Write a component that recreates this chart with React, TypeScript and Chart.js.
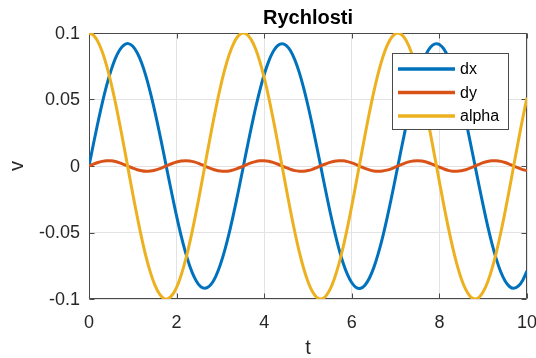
import React, { useEffect, useRef } from 'react';
import { Chart, registerables } from 'chart.js';

Chart.register(...registerables);

const TITLE = 'Rychlosti';
const X_LABEL = 't';
const Y_LABEL = 'v';

const T = [
  0, 0.1, 0.2, 0.3, 0.4, 0.5, 0.6, 0.7, 0.8, 0.9,
  1.0, 1.1, 1.2, 1.3, 1.4, 1.5, 1.6, 1.7, 1.8, 1.9,
  2.0, 2.1, 2.2, 2.3, 2.4, 2.5, 2.6, 2.7, 2.8, 2.9,
  3.0, 3.1, 3.2, 3.3, 3.4, 3.5, 3.6, 3.7, 3.8, 3.9,
  4.0, 4.1, 4.2, 4.3, 4.4, 4.5, 4.6, 4.7, 4.8, 4.9,
  5.0, 5.1, 5.2, 5.3, 5.4, 5.5, 5.6, 5.7, 5.8, 5.9,
  6.0, 6.1, 6.2, 6.3, 6.4, 6.5, 6.6, 6.7, 6.8, 6.9,
  7.0, 7.1, 7.2, 7.3, 7.4, 7.5, 7.6, 7.7, 7.8, 7.9,
  8.0, 8.1, 8.2, 8.3, 8.4, 8.5, 8.6, 8.7, 8.8, 8.9,
  9.0, 9.1, 9.2, 9.3, 9.4, 9.5, 9.6, 9.7, 9.8, 9.9,
  10.0,
];

const DX = [
  0, 0.0163, 0.0321, 0.0469, 0.0602, 0.0715, 0.0807, 0.0872, 0.0910, 0.0920,
  0.0900, 0.0851, 0.0776, 0.0676, 0.0554, 0.0415, 0.0263, 0.0103, -0.0061, -0.0222,
  -0.0377, -0.0520, -0.0646, -0.0752, -0.0834, -0.0890, -0.0917, -0.0915, -0.0885, -0.0826,
  -0.0741, -0.0633, -0.0505, -0.0360, -0.0205, -0.0043, 0.0121, 0.0281, 0.0432, 0.0569,
  0.0688, 0.0785, 0.0858, 0.0903, 0.0920, 0.0907, 0.0866, 0.0798, 0.0704, 0.0588,
  0.0453, 0.0304, 0.0145, -0.0018, -0.0181, -0.0338, -0.0484, -0.0615, -0.0727, -0.0815,
  -0.0878, -0.0913, -0.0919, -0.0896, -0.0844, -0.0766, -0.0663, -0.0540, -0.0399, -0.0246,
  -0.0085, 0.0079, 0.0240, 0.0394, 0.0535, 0.0659, 0.0763, 0.0842, 0.0894, 0.0918,
  0.0914, 0.0880, 0.0818, 0.0730, 0.0620, 0.0489, 0.0344, 0.0187, 0.0024, -0.0139,
  -0.0298, -0.0448, -0.0583, -0.0700, -0.0795, -0.0864, -0.0906, -0.0920, -0.0904, -0.0860,
  -0.0789,
];

const DY = [
  0, 0.0014, 0.0026, 0.0035, 0.0040, 0.0039, 0.0034, 0.0024, 0.0011, -0.0003,
  -0.0016, -0.0028, -0.0036, -0.0040, -0.0038, -0.0032, -0.0022, -0.0009, 0.0005, 0.0019,
  0.0030, 0.0037, 0.0040, 0.0038, 0.0031, 0.0020, 0.0006, -0.0008, -0.0021, -0.0032,
  -0.0038, -0.0040, -0.0037, -0.0029, -0.0017, -0.0004, 0.0010, 0.0023, 0.0033, 0.0039,
  0.0040, 0.0036, 0.0027, 0.0015, 0.0001, -0.0013, -0.0025, -0.0035, -0.0039, -0.0039,
  -0.0034, -0.0025, -0.0012, 0.0002, 0.0015, 0.0027, 0.0036, 0.0040, 0.0039, 0.0033,
  0.0023, 0.0010, -0.0004, -0.0018, -0.0029, -0.0037, -0.0040, -0.0038, -0.0031, -0.0021,
  -0.0007, 0.0007, 0.0020, 0.0031, 0.0038, 0.0040, 0.0037, 0.0030, 0.0018, 0.0005,
  -0.0009, -0.0022, -0.0033, -0.0039, -0.0040, -0.0036, -0.0028, -0.0016, -0.0002, 0.0012,
  0.0025, 0.0034, 0.0039, 0.0040, 0.0035, 0.0026, 0.0013, -0.0001, -0.0014, -0.0027,
  -0.0035,
];

const ALPHA = [
  0.1, 0.0984, 0.0937, 0.0861, 0.0757, 0.0629, 0.0481, 0.0318, 0.0145, -0.0033,
  -0.0210, -0.0380, -0.0538, -0.0679, -0.0798, -0.0892, -0.0958, -0.0994, -0.0998, -0.0970,
  -0.0912, -0.0825, -0.0712, -0.0576, -0.0422, -0.0255, -0.0079, 0.0099, 0.0274, 0.0440,
  0.0592, 0.0726, 0.0836, 0.0920, 0.0975, 0.0999, 0.0991, 0.0952, 0.0883, 0.0786,
  0.0664, 0.0521, 0.0361, 0.0190, 0.0013, -0.0164, -0.0337, -0.0498, -0.0644, -0.0769,
  -0.0870, -0.0944, -0.0988, -0.1000, -0.0981, -0.0930, -0.0850, -0.0744, -0.0613, -0.0463,
  -0.0299, -0.0125, 0.0053, 0.0229, 0.0398, 0.0554, 0.0693, 0.0810, 0.0901, 0.0964,
  0.0996, 0.0996, 0.0965, 0.0904, 0.0814, 0.0698, 0.0559, 0.0404, 0.0235, 0.0059,
  -0.0119, -0.0293, -0.0458, -0.0608, -0.0739, -0.0847, -0.0928, -0.0979, -0.1000, -0.0989,
  -0.0946, -0.0874, -0.0774, -0.0649, -0.0504, -0.0343, -0.0171, 0.0007, 0.0184, 0.0355,
  0.0515,
];

const SERIES_LABELS = ['dx', 'dy', 'alpha'];
const SERIES_COLORS = ['#0072BD', '#D95319', '#EDB120'];

const X_TICKS = [0, 2, 4, 6, 8, 10];
const Y_TICKS = [-0.1, -0.05, 0, 0.05, 0.1];

const FONT = "'Liberation Sans', Arial, Helvetica, sans-serif";
const AXIS_COLOR = '#262626';
const BOX_COLOR = '#4a4a4a';
const GRID_COLOR = '#e3e3e3';

const boxPlugin = {
  id: 'matlabBox',
  beforeDatasetsDraw(chart: any) {
    const { ctx, chartArea: a, scales } = chart;
    const L = Math.round(a.left) + 0.5;
    const R = Math.round(a.right) - 0.5;
    const Tp = Math.round(a.top) + 0.5;
    const B = Math.round(a.bottom) - 0.5;
    ctx.save();
    ctx.strokeStyle = BOX_COLOR;
    ctx.lineWidth = 1;
    ctx.beginPath();
    ctx.rect(L, Tp, R - L, B - Tp);
    const tl = 5;
    X_TICKS.forEach((v) => {
      const px = Math.round(scales.x.getPixelForValue(v)) + 0.5;
      ctx.moveTo(px, B);
      ctx.lineTo(px, B - tl);
      ctx.moveTo(px, Tp);
      ctx.lineTo(px, Tp + tl);
    });
    Y_TICKS.forEach((v) => {
      const py = Math.round(scales.y.getPixelForValue(v)) + 0.5;
      ctx.moveTo(L, py);
      ctx.lineTo(L + tl, py);
      ctx.moveTo(R, py);
      ctx.lineTo(R - tl, py);
    });
    ctx.stroke();
    ctx.restore();
  },
};

const legendPlugin = {
  id: 'matlabLegend',
  afterDatasetsDraw(chart: any) {
    const { ctx, chartArea: a } = chart;
    const w = 116;
    const h = 76;
    const left = Math.round(a.right) - 19 - w;
    const top = Math.round(a.top) + 20;
    ctx.save();
    ctx.fillStyle = '#ffffff';
    ctx.fillRect(left, top, w, h);
    ctx.strokeStyle = BOX_COLOR;
    ctx.lineWidth = 1;
    ctx.strokeRect(left + 0.5, top + 0.5, w, h);
    const rows = [16, 39.5, 63];
    chart.data.datasets.forEach((ds: any, i: number) => {
      const y = top + rows[i];
      ctx.strokeStyle = ds.borderColor;
      ctx.lineWidth = 3.5;
      ctx.beginPath();
      ctx.moveTo(left + 6, y);
      ctx.lineTo(left + 63, y);
      ctx.stroke();
      ctx.fillStyle = '#000000';
      ctx.font = `16px ${FONT}`;
      ctx.textBaseline = 'middle';
      ctx.textAlign = 'left';
      ctx.fillText(ds.label, left + 68, y + 1);
    });
    ctx.restore();
  },
};

export default function App() {
  const ref = useRef<HTMLCanvasElement | null>(null);

  useEffect(() => {
    if (!ref.current) return;
    const series = [DX, DY, ALPHA];
    const chart = new Chart(ref.current, {
      type: 'line',
      data: {
        datasets: series.map((vals, i) => ({
          label: SERIES_LABELS[i],
          data: vals.map((y, k) => ({ x: T[k], y })),
          borderColor: SERIES_COLORS[i],
          backgroundColor: SERIES_COLORS[i],
          borderWidth: 3,
          pointRadius: 0,
          tension: 0.3,
          fill: false,
          order: series.length - 1 - i,
        })),
      },
      options: {
        responsive: false,
        animation: false,
        layout: { padding: 0 },
        plugins: {
          legend: { display: false },
          tooltip: { enabled: false },
          title: {
            display: true,
            text: TITLE,
            fullSize: false,
            color: '#000000',
            font: { family: FONT, size: 20, weight: 'bold', lineHeight: 1.2 },
            padding: { top: 6, bottom: 3 },
          },
        },
        scales: {
          x: {
            type: 'linear',
            min: 0,
            max: 10,
            afterBuildTicks: (s: any) => {
              s.ticks = X_TICKS.map((v) => ({ value: v }));
            },
            afterFit: (s: any) => {
              s.height = 59;
              s.paddingRight = 9;
            },
            ticks: {
              color: AXIS_COLOR,
              font: { family: FONT, size: 18 },
              padding: 13,
              maxRotation: 0,
              autoSkip: false,
              callback: (v: any) => String(v),
            },
            grid: { color: GRID_COLOR, lineWidth: 1, drawTicks: false },
            border: { display: false },
            title: {
              display: true,
              text: X_LABEL,
              color: AXIS_COLOR,
              font: { family: FONT, size: 20, lineHeight: 1 },
              padding: { top: -4, bottom: 0 },
            },
          },
          y: {
            type: 'linear',
            min: -0.1,
            max: 0.1,
            afterBuildTicks: (s: any) => {
              s.ticks = Y_TICKS.map((v) => ({ value: v }));
            },
            afterFit: (s: any) => {
              s.width = 89;
            },
            ticks: {
              color: AXIS_COLOR,
              font: { family: FONT, size: 18 },
              padding: 9,
              labelOffset: 1,
              autoSkip: false,
              callback: (v: any) => {
                const r = Math.round(Number(v) * 1000) / 1000;
                return r === 0 ? '0' : String(r);
              },
            },
            grid: { color: GRID_COLOR, lineWidth: 1, drawTicks: false },
            border: { display: false },
            title: {
              display: true,
              text: Y_LABEL,
              color: AXIS_COLOR,
              font: { family: FONT, size: 20, lineHeight: 1.2 },
              padding: { top: 5, bottom: 0 },
            },
          },
        },
      },
      plugins: [boxPlugin, legendPlugin],
    } as any);
    return () => chart.destroy();
  }, []);

  return (
    <canvas
      ref={ref}
      width={536}
      height={358}
      style={{ position: 'fixed', left: 0, top: 0, width: 536, height: 358, display: 'block' }}
    />
  );
}
